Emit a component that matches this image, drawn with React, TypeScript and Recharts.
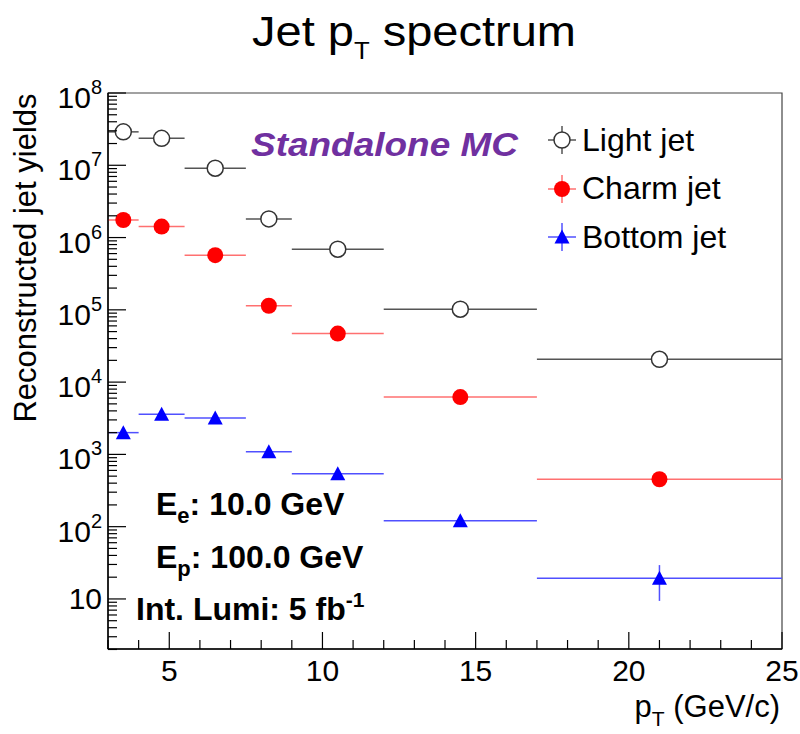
import React from 'react'
import { ScatterChart, Scatter, XAxis, YAxis, ErrorBar, ReferenceArea, Legend } from 'recharts'

// bin centres and half widths in pT (GeV/c)
const binCenters = [3.5, 4.75, 6.5, 8.25, 10.5, 14.5, 21]
const binHalfWidths = [0.5, 0.75, 1, 0.75, 1.5, 2.5, 4]

// reconstructed yields per flavour
const lightYields = [2.9e7, 2.36e7, 9.1e6, 1.81e6, 6.9e5, 1.02e5, 2.07e4]
const charmYields = [1.75e6, 1.42e6, 5.7e5, 1.14e5, 4.7e4, 6.2e3, 453]
const bottomYields = [2000, 3600, 3200, 1090, 540, 121, 19.4]
const bottomErrors = [60, 80, 75, 45, 30, 15, 10]

const seriesNames = ['Light jet', 'Charm jet', 'Bottom jet']

const xTicks = [3, 4, 5, 6, 7, 8, 9, 10, 11, 12, 13, 14, 15, 16, 17, 18, 19, 20, 21, 22, 23, 24, 25]
const xMajorTicks = [5, 10, 15, 20, 25]
const yDecades = [1, 10, 100, 1e3, 1e4, 1e5, 1e6, 1e7, 1e8]
const yMinorSteps = [2, 3, 4, 5, 6, 7, 8, 9]

const FONT = '"Liberation Sans", Arial, Helvetica, sans-serif'
const W = 800
const H = 734

const yTicks = [
  ...yDecades.slice(1),
  ...yDecades.slice(0, -1).flatMap(d => yMinorSteps.map(s => s * d)),
].filter(v => v >= 2).sort((a, b) => a - b)

const toRows = (ys: number[], errs?: number[]) =>
  binCenters.map((x, i) => ({ x, y: ys[i], xErr: binHalfWidths[i], yErr: errs ? errs[i] : 0 }))

const lightData = toRows(lightYields)
const charmData = toRows(charmYields)
const bottomData = toRows(bottomYields, bottomErrors)

const OpenCircle = (p: any) => (
  <circle cx={p.cx} cy={p.cy} r={8} fill="#fff" stroke="#333" strokeWidth={1.5} />
)
const FullCircle = (p: any) => <circle cx={p.cx} cy={p.cy} r={8} fill="#ff0000" />
const Triangle = (p: any) => (
  <polygon
    points={`${p.cx},${p.cy - 7.5} ${p.cx - 7.5},${p.cy + 6.5} ${p.cx + 7.5},${p.cy + 6.5}`}
    fill="#0000ff"
  />
)

function YTick({ x, y, payload }: any) {
  const v = payload.value
  const exp = Math.round(Math.log10(v))
  const major = Math.abs(v - Math.pow(10, exp)) < v * 1e-6
  return (
    <g>
      <line x1={x} x2={x + (major ? 18 : 9)} y1={y} y2={y} stroke="#000" strokeWidth={1.2} />
      {major && (
        <text x={102} y={exp > 1 ? y + 15 : y + 10} textAnchor="end" fontSize={30} fontFamily={FONT} fill="#000">
          10
          {exp > 1 && (
            <tspan dy={-14} fontSize={20}>
              {exp}
            </tspan>
          )}
        </text>
      )}
    </g>
  )
}

function XTick({ x, y, payload }: any) {
  const major = xMajorTicks.includes(payload.value)
  return (
    <g>
      <line x1={x} x2={x} y1={y} y2={y - (major ? 17 : 9)} stroke="#000" strokeWidth={1.2} />
      {major && (
        <text x={x} y={y + 32} textAnchor="middle" fontSize={30} fontFamily={FONT} fill="#000">
          {payload.value}
        </text>
      )}
    </g>
  )
}

const legendStyle: Record<string, { line: string; marker: (cx: number, cy: number) => React.ReactNode }> = {
  'Light jet': { line: '#555', marker: (cx, cy) => <OpenCircle cx={cx} cy={cy} /> },
  'Charm jet': { line: '#ff7070', marker: (cx, cy) => <FullCircle cx={cx} cy={cy} /> },
  'Bottom jet': { line: '#5050ff', marker: (cx, cy) => <Triangle cx={cx} cy={cy} /> },
}

function LegendBox({ payload }: any) {
  const entries = [...(payload || [])].sort(
    (a: any, b: any) => seriesNames.indexOf(a.value) - seriesNames.indexOf(b.value)
  )
  return (
    <div style={{ fontFamily: FONT, fontSize: 32, color: '#000' }}>
      {entries.map((entry: any) => {
        const st = legendStyle[entry.value]
        return (
          <div key={entry.value} style={{ display: 'flex', alignItems: 'center', height: 48.5 }}>
            <svg width={32} height={32} style={{ marginRight: 4 }}>
              <line x1={2} x2={30} y1={16} y2={16} stroke={st.line} strokeWidth={1.5} />
              <line x1={16} x2={16} y1={2} y2={30} stroke={st.line} strokeWidth={1.5} />
              {st.marker(16, 16)}
            </svg>
            <span>{entry.value}</span>
          </div>
        )
      })}
    </div>
  )
}

export default function App() {
  return (
    <div style={{ position: 'absolute', left: 0, top: 0, width: W, height: H, background: '#fff' }}>
      <ScatterChart width={W} height={H} margin={{ top: 93, right: 18, bottom: 0, left: 0 }}>
        <XAxis
          type="number"
          dataKey="x"
          domain={[3, 25]}
          ticks={xTicks}
          interval={0}
          tick={<XTick />}
          tickLine={false}
          tickSize={0}
          tickMargin={0}
          height={85}
          axisLine={{ stroke: '#000', strokeWidth: 1.5 }}
          allowDataOverflow
        />
        <YAxis
          type="number"
          dataKey="y"
          scale="log"
          domain={[2.03, 1e8]}
          ticks={yTicks}
          interval={0}
          tick={<YTick />}
          tickLine={false}
          tickSize={0}
          tickMargin={0}
          width={108}
          axisLine={{ stroke: '#000', strokeWidth: 1.5 }}
          allowDataOverflow
        />
        <ReferenceArea x1={3} x2={25} y1={2.03} y2={1e8} fill="none" stroke="#444" strokeWidth={1.2} ifOverflow="visible" />
        <Legend
          layout="vertical"
          align="center"
          verticalAlign="middle"
          content={<LegendBox />}
          wrapperStyle={{ position: 'absolute', left: 546, top: 116, width: 240 }}
        />
        <Scatter name="Light jet" data={lightData} shape={OpenCircle} fill="#333" isAnimationActive={false}>
          <ErrorBar dataKey="xErr" direction="x" width={0} stroke="#555" strokeWidth={1.5} />
        </Scatter>
        <Scatter name="Charm jet" data={charmData} shape={FullCircle} fill="#ff0000" isAnimationActive={false}>
          <ErrorBar dataKey="xErr" direction="x" width={0} stroke="#ff7070" strokeWidth={1.5} />
        </Scatter>
        <Scatter name="Bottom jet" data={bottomData} shape={Triangle} fill="#0000ff" isAnimationActive={false}>
          <ErrorBar dataKey="xErr" direction="x" width={0} stroke="#5050ff" strokeWidth={1.5} />
          <ErrorBar dataKey="yErr" direction="y" width={0} stroke="#5050ff" strokeWidth={1.5} />
        </Scatter>
      </ScatterChart>
      <svg
        width={W}
        height={H}
        style={{ position: 'absolute', left: 0, top: 0, pointerEvents: 'none' }}
        fontFamily={FONT}
      >
        <text x={252} y={46} fontSize={42} fill="#000" textLength={324} lengthAdjust="spacingAndGlyphs">
          Jet p
          <tspan dy={13} fontSize={23}>T</tspan>
          <tspan dy={-13}> spectrum</tspan>
        </text>
        <text
          transform="translate(36,258) rotate(-90)"
          textAnchor="middle"
          fontSize={31}
          fill="#000"
        >
          Reconstructed jet yields
        </text>
        <text x={780} y={717} textAnchor="end" fontSize={31} fill="#000">
          p
          <tspan dy={9} fontSize={21}>T</tspan>
          <tspan dy={-9}> (GeV/c)</tspan>
        </text>
        <text
          x={251}
          y={156}
          fontSize={34}
          fontWeight="bold"
          fontStyle="italic"
          fill="#7030a0"
          textLength={267}
          lengthAdjust="spacingAndGlyphs"
        >
          Standalone MC
        </text>
        <g fontSize={32} fontWeight="bold" fill="#000">
          <text x={156} y={515}>
            E<tspan dy={8} fontSize={22}>e</tspan>
            <tspan dy={-8}>: 10.0 GeV</tspan>
          </text>
          <text x={156} y={568}>
            E<tspan dy={8} fontSize={22}>p</tspan>
            <tspan dy={-8}>: 100.0 GeV</tspan>
          </text>
          <text x={136} y={620}>
            Int. Lumi: 5 fb<tspan dy={-13} fontSize={21}>-1</tspan>
          </text>
        </g>
      </svg>
    </div>
  )
}
